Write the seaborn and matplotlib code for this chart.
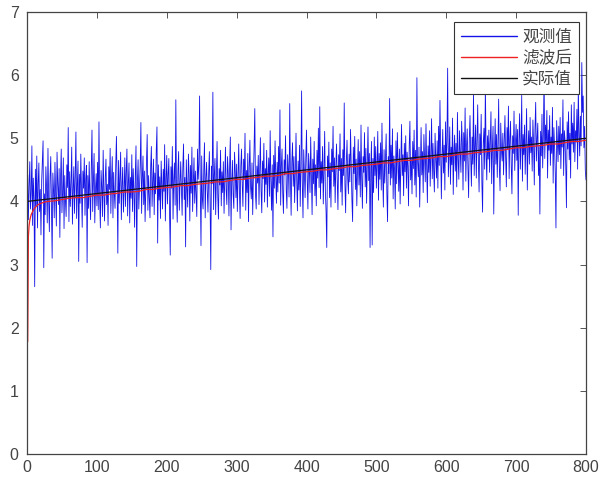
import numpy as np
import pandas as pd
import matplotlib
matplotlib.use("Agg")
import matplotlib.pyplot as plt
import seaborn as sns

observed = [
    4.42, 3.71, 4.25, 4.63, 3.88, 4.15, 4.88, 3.62, 4.37, 4.05, 2.65, 4.51, 3.93, 4.72, 3.58, 4.28, 4.61, 3.84, 4.19, 3.47,
    4.33, 4.67, 4.96, 2.95, 4.12, 3.79, 4.55, 4.21, 3.66, 4.84, 4.02, 3.52, 4.39, 4.71, 3.87, 3.10, 4.45, 4.18, 3.74, 4.62,
    4.09, 3.61, 4.78, 4.27, 3.95, 4.52, 3.43, 4.36, 4.83, 3.82, 4.14, 4.69, 3.57, 4.41, 4.02, 3.76, 4.58, 4.22, 5.17, 3.68,
    4.47, 3.92, 4.31, 4.86, 3.64, 4.18, 4.55, 3.81, 4.39, 5.10, 3.73, 4.26, 4.64, 3.05, 4.43, 3.97, 4.75, 4.12, 3.59, 4.48,
    4.21, 4.69, 3.78, 4.35, 4.57, 3.03, 4.41, 3.89, 4.63, 4.08, 3.71, 4.52, 5.13, 3.84, 4.29, 4.76, 3.66, 4.18, 4.44, 3.93,
    4.62, 3.87, 5.26, 4.05, 3.58, 4.49, 4.23, 3.76, 4.81, 4.14, 3.69, 4.38, 4.67, 3.95, 4.27, 3.62, 4.55, 4.19, 4.84, 3.81,
    4.33, 4.71, 3.74, 4.46, 4.12, 3.89, 4.58, 5.03, 4.21, 3.18, 4.65, 3.97, 4.39, 4.78, 3.71, 4.26, 4.54, 3.83, 4.15, 4.69,
    3.92, 4.47, 4.83, 3.77, 4.29, 4.61, 3.66, 4.38, 4.05, 4.74, 3.84, 4.52, 4.17, 3.59, 4.43, 4.88, 2.97, 4.31, 4.66, 3.88,
    4.24, 4.57, 5.25, 3.81, 4.36, 4.72, 3.95, 4.48, 3.68, 4.19, 4.63, 5.06, 3.86, 4.41, 4.09, 3.74, 4.55, 4.87, 3.92, 4.33,
    4.67, 3.79, 4.45, 4.12, 4.81, 5.18, 3.34, 4.58, 4.02, 4.39, 3.73, 4.64, 4.27, 3.88, 4.51, 4.16, 4.90, 3.69, 4.36, 4.73,
    3.96, 4.42, 4.68, 3.83, 3.15, 4.55, 4.21, 4.87, 3.72, 4.34, 4.61, 3.94, 5.61, 4.08, 3.67, 4.49, 4.79, 3.86, 4.28, 4.63,
    4.17, 3.78, 4.54, 4.91, 4.03, 4.38, 3.28, 4.66, 4.22, 3.91, 4.75, 4.44, 3.69, 4.57, 4.13, 4.86, 3.84, 4.31, 4.69, 3.97,
    4.48, 4.12, 3.76, 4.83, 4.35, 4.59, 5.67, 4.21, 3.30, 4.72, 4.04, 3.88, 4.51, 4.93, 3.74, 4.37, 4.62, 4.16, 3.83, 4.45,
    4.79, 4.02, 2.92, 4.56, 4.28, 5.73, 3.87, 4.41, 4.68, 3.79, 4.33, 4.95, 4.09, 3.72, 4.52, 4.26, 4.81, 3.93, 4.47, 4.14,
    4.63, 3.81, 4.38, 4.86, 4.19, 3.95, 4.71, 4.44, 3.77, 4.57, 5.02, 3.55, 4.32, 4.65, 4.11, 3.89, 4.78, 4.48, 4.06, 4.59,
    3.84, 4.42, 4.91, 4.17, 3.73, 4.56, 4.83, 4.28, 3.92, 4.67, 4.35, 5.08, 3.86, 4.49, 4.14, 4.76, 3.68, 4.53, 4.97, 4.22,
    4.04, 4.61, 3.79, 4.38, 4.85, 5.47, 4.12, 3.88, 4.56, 4.29, 4.73, 3.95, 4.47, 5.01, 4.18, 3.82, 4.64, 4.36, 4.92, 3.99,
    4.52, 4.27, 4.81, 3.91, 4.45, 4.69, 4.08, 5.12, 4.34, 3.86, 4.58, 3.44, 4.73, 4.21, 4.96, 4.39, 3.97, 4.62, 4.15, 4.87,
    4.29, 5.45, 3.94, 4.57, 4.83, 4.13, 3.81, 4.66, 4.42, 5.04, 4.19, 3.89, 4.74, 4.51, 4.07, 5.55, 4.36, 3.78, 4.62, 4.93,
    4.24, 4.71, 3.98, 4.47, 5.08, 4.33, 3.85, 4.64, 4.18, 4.89, 3.92, 4.55, 5.75, 4.27, 3.74, 4.82, 4.41, 4.06, 4.68, 5.13,
    4.35, 3.88, 4.76, 4.52, 4.14, 5.02, 4.43, 3.79, 4.67, 4.28, 4.95, 4.09, 4.58, 3.93, 4.81, 4.37, 5.16, 4.22, 5.50, 4.04,
    4.63, 4.29, 4.87, 3.96, 4.48, 5.11, 4.17, 3.84, 3.27, 4.72, 4.39, 4.94, 4.06, 4.61, 3.91, 4.83, 4.47, 5.19, 4.24, 4.69,
    3.98, 4.56, 4.91, 4.33, 3.87, 4.74, 4.49, 5.07, 4.15, 4.68, 3.94, 4.82, 4.41, 5.56, 4.27, 3.82, 4.63, 4.97, 4.36, 4.12,
    4.75, 4.31, 5.14, 4.58, 4.02, 3.68, 4.86, 4.44, 5.03, 4.19, 4.67, 3.93, 4.52, 4.98, 4.26, 4.79, 4.07, 5.21, 4.38, 3.89,
    4.71, 4.46, 5.09, 4.23, 4.84, 3.97, 4.59, 5.18, 4.33, 4.76, 3.27, 4.52, 4.95, 3.31, 4.68, 4.14, 5.02, 4.41, 4.87, 4.21,
    4.58, 5.11, 4.02, 4.76, 4.35, 4.93, 4.18, 5.24, 4.47, 3.91, 4.82, 4.29, 4.66, 5.07, 4.13, 3.68, 4.71, 4.44, 5.63, 4.26,
    4.89, 4.37, 5.15, 4.04, 4.72, 4.51, 3.88, 4.96, 4.28, 5.09, 4.62, 4.16, 4.83, 3.96, 4.58, 5.22, 4.41, 4.74, 4.09, 4.92,
    4.47, 5.04, 4.21, 4.78, 4.56, 3.93, 4.87, 5.27, 4.34, 4.69, 4.12, 4.95, 4.52, 5.13, 4.26, 4.81, 4.07, 5.96, 4.63, 4.39,
    4.86, 3.91, 4.58, 5.17, 4.42, 4.79, 4.14, 5.06, 4.67, 4.31, 5.23, 4.53, 3.98, 4.88, 4.46, 5.12, 4.24, 4.73, 5.31, 4.36,
    4.92, 4.49, 4.15, 5.08, 4.68, 4.37, 4.96, 4.21, 5.19, 4.57, 5.60, 4.83, 4.04, 4.71, 5.14, 4.45, 4.89, 4.18, 5.26, 4.62,
    4.95, 6.11, 4.39, 4.73, 5.18, 4.27, 4.86, 4.58, 5.32, 4.11, 4.79, 5.05, 4.48, 4.92, 4.23, 5.41, 4.67, 4.35, 5.12, 4.81,
    4.46, 5.27, 4.93, 4.18, 5.09, 4.64, 5.48, 4.32, 4.87, 5.15, 4.55, 4.06, 4.98, 5.36, 4.71, 4.24, 5.02, 4.59, 5.74, 4.41,
    4.88, 5.21, 4.37, 4.96, 5.53, 4.62, 4.15, 5.07, 4.74, 5.38, 4.29, 3.83, 4.93, 5.16, 4.51, 5.85, 4.78, 4.34, 5.04, 4.67,
    5.13, 4.46, 4.97, 5.42, 4.28, 4.85, 5.19, 3.80, 4.72, 5.31, 4.59, 5.06, 4.38, 4.91, 5.62, 4.53, 4.17, 5.24, 4.81, 4.64,
    5.08, 4.42, 4.95, 5.36, 4.69, 4.23, 5.17, 4.83, 5.51, 4.36, 4.98, 5.27, 4.57, 4.12, 5.04, 4.76, 5.43, 4.49, 4.91, 5.22,
    4.65, 5.14, 3.78, 4.97, 5.39, 4.51, 4.88, 5.68, 4.32, 5.06, 4.74, 5.21, 4.43, 4.96, 5.47, 4.18, 4.85, 5.12, 4.59, 5.33,
    4.77, 5.02, 4.48, 5.29, 4.93, 4.26, 5.16, 5.57, 4.64, 4.99, 5.24, 4.41, 4.87, 3.80, 5.11, 4.72, 5.38, 4.53, 5.06, 6.05,
    4.68, 5.21, 4.92, 5.44, 4.37, 5.13, 4.81, 5.36, 4.57, 5.02, 4.76, 5.49, 4.29, 5.17, 4.89, 4.45, 3.58, 5.28, 4.96, 4.63,
    5.19, 4.74, 5.33, 4.52, 5.07, 4.86, 5.61, 4.41, 5.12, 4.97, 4.58, 3.90, 5.26, 4.83, 5.42, 4.66, 5.08, 4.37, 5.53, 4.91,
    5.24, 4.78, 5.57, 4.63, 5.12, 4.94, 5.46, 4.51, 5.83, 5.06, 4.72, 5.35, 4.88, 6.20, 5.41, 5.67, 4.85, 5.19, 4.49, 4.34,
]
sample = list(range(1, 801))

# filtered estimate (red)
filt_x = [1, 2, 3, 4, 5, 6, 8, 10, 13, 16, 20, 25, 30] + list(range(40, 801, 10))
filt_y = [1.78, 3.45, 3.62, 3.70, 3.75, 3.79, 3.84, 3.88, 3.92, 3.95, 3.97, 3.99, 4.00,
          4.01, 4.03, 4.05, 4.06, 4.06, 4.08, 4.10, 4.10, 4.12, 4.13, 4.15, 4.15, 4.16, 4.19,
          4.19, 4.21, 4.22, 4.23, 4.25, 4.25, 4.27, 4.28, 4.29, 4.31, 4.31, 4.33, 4.35, 4.35,
          4.37, 4.38, 4.40, 4.40, 4.41, 4.44, 4.44, 4.46, 4.47, 4.48, 4.50, 4.50, 4.52, 4.53,
          4.55, 4.55, 4.57, 4.58, 4.59, 4.61, 4.61, 4.63, 4.65, 4.65, 4.67, 4.68, 4.69, 4.71,
          4.71, 4.73, 4.75, 4.75, 4.77, 4.78, 4.79, 4.81, 4.81, 4.83, 4.85, 4.85, 4.87, 4.88,
          4.89, 4.91, 4.91, 4.93, 4.95, 4.95, 4.97]

# true value (black)
actual_x = [0, 800]
actual_y = [4.0, 5.0]

labels = ["观测值", "滤波后", "实际值"]

sns.set_theme(style="white")
plt.rcParams["font.family"] = ["Liberation Sans", "Noto Sans CJK SC", "DejaVu Sans"]

fig = plt.figure(figsize=(6.07, 4.79), dpi=100)
ax = fig.add_axes([27 / 607, 1 - 454 / 479, (586 - 27) / 607, (454 - 12) / 479])

sns.lineplot(x=sample, y=observed, ax=ax, color="#1414e6", lw=0.6,
             estimator=None, sort=False, label=labels[0])
sns.lineplot(x=filt_x, y=filt_y, ax=ax, color="#ee2222", lw=0.9,
             estimator=None, sort=False, label=labels[1])
sns.lineplot(x=actual_x, y=actual_y, ax=ax, color="#111111", lw=0.9,
             estimator=None, sort=False, label=labels[2])

ax.set_xlim(0, 800)
ax.set_ylim(0, 7)
ax.set_xticks(range(0, 801, 100))
ax.set_yticks(range(0, 8))
ax.tick_params(direction="in", length=4, width=0.7, top=True, right=True,
               labelsize=11.5, labelcolor="#444444", colors="#555555", pad=4)
ax.tick_params(axis="y", pad=6)
for s in ax.spines.values():
    s.set_color("#444444")
    s.set_linewidth(0.9)

leg = ax.legend(loc="upper right", bbox_to_anchor=(579 / 607, 1 - 22 / 479),
                bbox_transform=fig.transFigure, borderaxespad=0, fancybox=False,
                framealpha=1, edgecolor="#333333", handlelength=3.35,
                labelspacing=0.22, borderpad=0.42, handletextpad=0.3,
                prop={"family": ["Noto Sans CJK SC"], "size": 12})
leg.get_frame().set_linewidth(0.8)
for line in leg.get_lines():
    line.set_linewidth(1.0)
for t in leg.get_texts():
    t.set_color("#444444")

fig.savefig("out.png", dpi=100)
